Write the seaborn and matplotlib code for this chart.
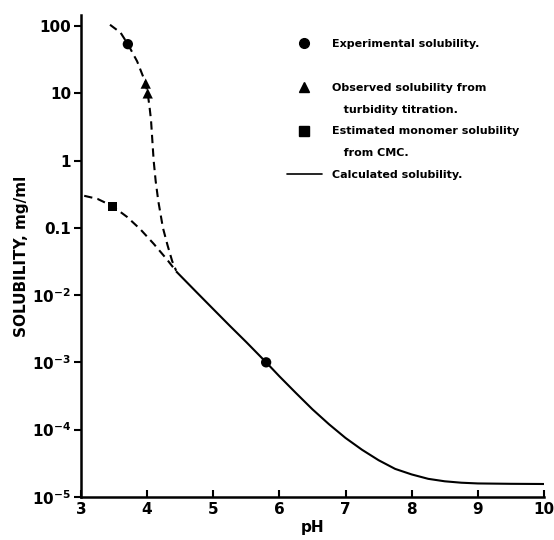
import numpy as np
import pandas as pd
import seaborn as sns
import matplotlib.pyplot as plt
from matplotlib.lines import Line2D

# curva calculada (linea continua)
ph_calc = [4.45, 4.75, 5.0, 5.25, 5.5, 5.8, 6.0, 6.25, 6.5, 6.75, 7.0, 7.25, 7.5, 7.75, 8.0, 8.25, 8.5, 8.75, 9.0, 9.5, 10.0]
sol_calc = [0.022, 0.011, 6.2e-3, 3.5e-3, 2.0e-3, 1.0e-3, 6.2e-4, 3.5e-4, 2.0e-4, 1.2e-4, 7.5e-5, 5.0e-5, 3.5e-5, 2.6e-5, 2.15e-5, 1.85e-5, 1.7e-5, 1.62e-5, 1.58e-5, 1.56e-5, 1.55e-5]

# curva discontinua inferior (monomero)
ph_mono = [3.05, 3.25, 3.48, 3.7, 3.9, 4.1, 4.3, 4.45]
sol_mono = [0.30, 0.27, 0.21, 0.145, 0.095, 0.058, 0.034, 0.022]

# curva discontinua superior
ph_sup = [3.44, 3.6, 3.71, 3.85, 3.97, 4.01, 4.04, 4.06, 4.08, 4.10, 4.13, 4.17, 4.24, 4.31, 4.38, 4.44]
sol_sup = [105, 80, 54, 30, 15, 10, 6, 4, 2, 1, 0.5, 0.25, 0.1, 0.055, 0.032, 0.023]

# puntos
ph_exp = [3.71, 5.8]
sol_exp = [54, 1.0e-3]
ph_turb = [3.98, 4.01]
sol_turb = [14, 10]
ph_cmc = [3.48]
sol_cmc = [0.21]

yticks = [100, 10, 1, 0.1, 1e-2, 1e-3, 1e-4, 1e-5]
ytick_labels = ['100', '10', '1', '0.1', '10$^{-2}$', '10$^{-3}$', '10$^{-4}$', '10$^{-5}$']
xticks = [3, 4, 5, 6, 7, 8, 9, 10]

sns.set_style('ticks')
plt.rcParams['font.family'] = ['DejaVu Sans']
plt.rcParams['mathtext.default'] = 'regular'
plt.rcParams['text.color'] = 'black'
plt.rcParams['axes.labelcolor'] = 'black'
plt.rcParams['xtick.color'] = 'black'
plt.rcParams['ytick.color'] = 'black'
plt.rcParams['axes.edgecolor'] = 'black'

fig = plt.figure(figsize=(5.54, 5.40), dpi=100)
ax = fig.add_axes([0.146, 0.080, 0.836, 0.892])

dash = (4, 2.5)
sns.lineplot(x=ph_calc, y=sol_calc, ax=ax, color='black', lw=1.5, sort=False)
sns.lineplot(x=ph_mono, y=sol_mono, ax=ax, color='black', lw=1.5, sort=False)
ax.lines[-1].set_dashes(dash)
sns.lineplot(x=ph_sup, y=sol_sup, ax=ax, color='black', lw=1.5, sort=False)
ax.lines[-1].set_dashes(dash)

sns.scatterplot(x=ph_exp, y=sol_exp, ax=ax, color='black', marker='o', s=55, edgecolor='none', zorder=5)
sns.scatterplot(x=ph_turb, y=sol_turb, ax=ax, color='black', marker='^', s=55, edgecolor='none', zorder=5)
sns.scatterplot(x=ph_cmc, y=sol_cmc, ax=ax, color='black', marker='s', s=45, edgecolor='none', zorder=5)

ax.set_yscale('log')
ax.set_ylim(1e-5, 146)
ax.set_xlim(3, 10)
ax.set_yticks(yticks)
ax.set_yticklabels(ytick_labels)
ax.yaxis.set_minor_locator(plt.NullLocator())
ax.set_xticks(xticks)
ax.tick_params(axis='y', direction='out', length=5, width=1.5, labelsize=11, pad=2)
ax.tick_params(axis='x', direction='in', length=5, width=1.5, labelsize=11, pad=4)
for lab in ax.get_xticklabels() + ax.get_yticklabels():
    lab.set_fontweight('bold')
sns.despine(ax=ax)
ax.spines['left'].set_linewidth(1.8)
ax.spines['bottom'].set_linewidth(1.8)

ax.set_xlabel('pH', fontsize=11, fontweight='bold', labelpad=2)
ax.set_ylabel('SOLUBILITY, mg/ml', fontsize=11, fontweight='bold', labelpad=2)

# leyenda: una fila por linea de texto
blank = Line2D([], [], ls='none')
handles = [
    Line2D([], [], color='black', marker='o', ls='none', markersize=7),
    blank,
    Line2D([], [], color='black', marker='^', ls='none', markersize=7),
    blank,
    Line2D([], [], color='black', marker='s', ls='none', markersize=6.5),
    blank,
    Line2D([], [], color='black', lw=1.2),
]
labels = ['Experimental solubility.',
          ' ',
          'Observed solubility from',
          '   turbidity titration.',
          'Estimated monomer solubility',
          '   from CMC.',
          'Calculated solubility.']
leg = ax.legend(handles, labels, loc='upper left', bbox_to_anchor=(0.518, 0.928),
                bbox_transform=fig.transFigure, frameon=False, borderpad=0,
                borderaxespad=0, prop={'size': 8, 'weight': 'bold'},
                handlelength=3.15, handletextpad=0.9, labelspacing=1.07)

fig.savefig('out.png', dpi=100)
